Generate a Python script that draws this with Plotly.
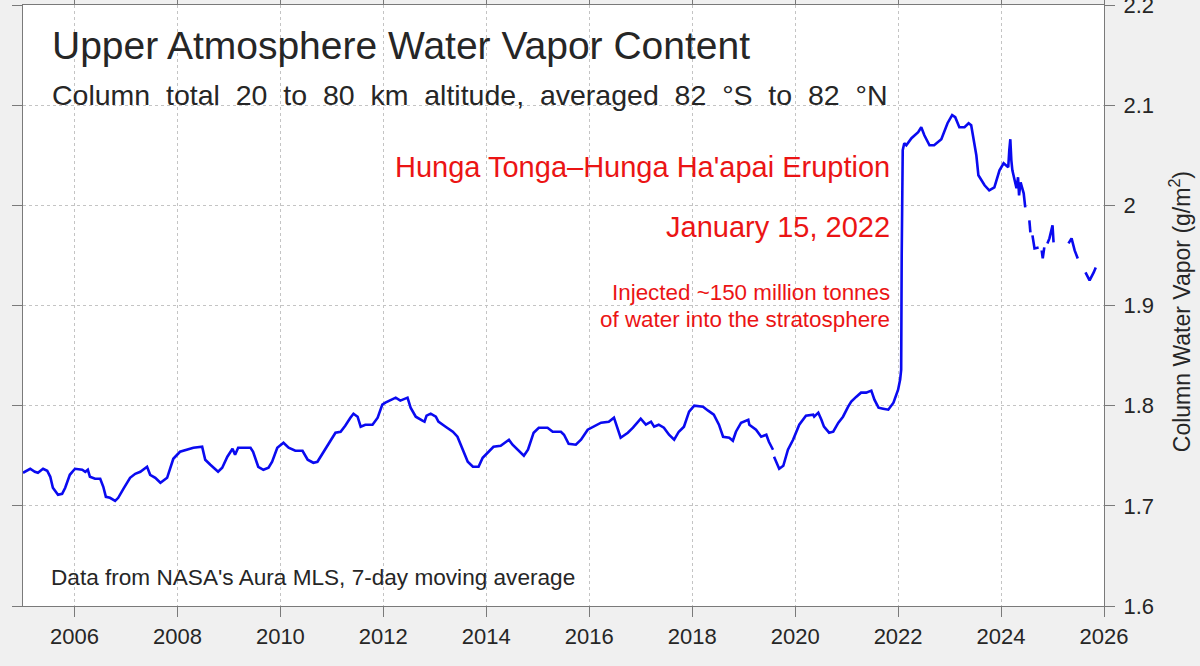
import plotly.graph_objects as go

# ---- data (decimal year, column water vapor g/m^2); None = gap in record ----
years = [
    2005.00, 2005.14, 2005.23, 2005.29, 2005.39, 2005.47, 2005.53, 2005.58, 2005.68, 2005.76, 2005.82, 2005.91,
    2006.01, 2006.15, 2006.21, 2006.26, 2006.30, 2006.40, 2006.50, 2006.56, 2006.61, 2006.69, 2006.79, 2006.85, 2006.95,
    2007.08, 2007.18, 2007.28, 2007.41, 2007.47, 2007.57, 2007.67, 2007.80, 2007.92,
    2008.05, 2008.19, 2008.31, 2008.48, 2008.54, 2008.64, 2008.79, 2008.87, 2008.97,
    2009.07, 2009.12, 2009.18, 2009.42, 2009.47, 2009.57, 2009.67, 2009.77, 2009.84, 2009.94,
    2010.06, 2010.16, 2010.29, 2010.43, 2010.53, 2010.64, 2010.72, 2010.84, 2010.97,
    2011.07, 2011.17, 2011.26, 2011.36, 2011.42, 2011.50, 2011.56, 2011.65, 2011.79, 2011.89, 2011.98,
    2012.04, 2012.18, 2012.24, 2012.33, 2012.47, 2012.53, 2012.63, 2012.76, 2012.80, 2012.84, 2012.92,
    2013.02, 2013.07, 2013.21, 2013.35, 2013.44, 2013.54, 2013.64, 2013.74, 2013.85, 2013.93,
    2014.05, 2014.14, 2014.28, 2014.44, 2014.51, 2014.61, 2014.73, 2014.81, 2014.92,
    2015.02, 2015.19, 2015.29, 2015.45, 2015.51, 2015.60, 2015.74, 2015.84, 2015.97,
    2016.07, 2016.23, 2016.38, 2016.48, 2016.61, 2016.75, 2016.85, 2016.95,
    2017.00, 2017.10, 2017.20, 2017.26, 2017.35, 2017.45, 2017.55, 2017.65, 2017.74, 2017.84, 2017.94,
    2018.04, 2018.21, 2018.31, 2018.42, 2018.52, 2018.60, 2018.72, 2018.79, 2018.85, 2018.95,
    2019.09, 2019.11, 2019.24, 2019.34, 2019.44, 2019.49, 2019.57, 2019.58, 2019.59, 2019.69, 2019.77, 2019.86, 2019.96,
    2020.08, 2020.21, 2020.35, 2020.37, 2020.45, 2020.51, 2020.56, 2020.66, 2020.74, 2020.84, 2020.93,
    2021.03, 2021.09, 2021.19, 2021.28, 2021.38, 2021.48, 2021.54, 2021.62, 2021.71, 2021.81, 2021.91,
    2022.00, 2022.04, 2022.06, 2022.07, 2022.09, 2022.12, 2022.16, 2022.26, 2022.39, 2022.45, 2022.51, 2022.61, 2022.70, 2022.84, 2022.96,
    2023.05, 2023.11, 2023.19, 2023.29, 2023.37, 2023.42, 2023.52, 2023.56, 2023.68, 2023.77, 2023.87, 2023.97,
    2024.05, 2024.14, 2024.16, 2024.18, 2024.20, 2024.22, 2024.30, 2024.33, 2024.35, 2024.38, 2024.44, 2024.47,
    2024.51, 2024.55, 2024.57, 2024.59, 2024.61, 2024.63, 2024.65, 2024.73, 2024.77, 2024.79, 2024.81, 2024.84, 2024.88, 2024.90, 2024.94, 2025.00, 2025.02,
    2025.08, 2025.14, 2025.19, 2025.23, 2025.27, 2025.31, 2025.37, 2025.43, 2025.49,
    2025.52, 2025.54, 2025.60, 2025.64, 2025.72, 2025.80, 2025.84,
]
water_vapor = [
    1.733, 1.737, 1.734, 1.733, 1.737, 1.735, 1.729, 1.718, 1.711, 1.712, 1.718, 1.731,
    1.737, 1.736, 1.734, 1.736, 1.729, 1.727, 1.727, 1.719, 1.709, 1.708, 1.705, 1.708, 1.717,
    1.728, 1.732, 1.734, 1.739, 1.731, 1.728, 1.723, 1.728, 1.747,
    1.754, 1.756, 1.758, 1.759, 1.746, 1.741, 1.734, 1.738, 1.749,
    1.757, 1.751, 1.758, 1.758, 1.754, 1.739, 1.736, 1.738, 1.744, 1.758,
    1.763, 1.758, 1.755, 1.755, 1.746, 1.743, 1.744, 1.754, 1.764,
    1.773, 1.774, 1.780, 1.788, 1.792, 1.789, 1.779, 1.781, 1.781, 1.788, 1.801,
    1.803, 1.806, 1.808, 1.805, 1.808, 1.798, 1.789, 1.785, 1.784, 1.790, 1.792,
    1.789, 1.784, 1.779, 1.774, 1.769, 1.756, 1.744, 1.739, 1.739, 1.748,
    1.754, 1.759, 1.760, 1.766, 1.761, 1.756, 1.750, 1.756, 1.773,
    1.778, 1.778, 1.774, 1.774, 1.771, 1.762, 1.761, 1.766, 1.776,
    1.779, 1.783, 1.784, 1.788, 1.768, 1.773, 1.778, 1.784,
    1.787, 1.781, 1.784, 1.779, 1.781, 1.778, 1.771, 1.766, 1.774, 1.779, 1.794,
    1.800, 1.799, 1.795, 1.791, 1.781, 1.769, 1.768, 1.765, 1.774, 1.783,
    1.786, 1.781, 1.776, 1.769, 1.771, 1.764, 1.756, None, 1.749, 1.737, 1.740, 1.756, 1.766,
    1.781, 1.790, 1.791, 1.789, 1.793, 1.786, 1.779, 1.773, 1.774, 1.783, 1.789,
    1.799, 1.804, 1.809, 1.813, 1.813, 1.815, 1.806, 1.798, 1.797, 1.796, 1.803,
    1.816, 1.826, 1.836, 1.950, 2.055, 2.062, 2.060, 2.067, 2.073, 2.078, 2.070, 2.060, 2.060, 2.066, 2.082,
    2.090, 2.088, 2.078, 2.078, 2.082, 2.080, 2.050, 2.030, 2.020, 2.015, 2.018, 2.035,
    2.042, 2.038, 2.055, 2.066, 2.045, 2.035, 2.017, 2.028, 2.010, 2.023, 2.012, 1.998,
    None, 1.985, 1.973, None, 1.970, 1.965, 1.957, 1.958, None, 1.955, 1.947, 1.958, None, 1.962, 1.967, 1.980, 1.963,
    None, 1.968, None, 1.962, None, 1.962, 1.967, 1.955, 1.947,
    None, 1.935, None, 1.933, 1.925, 1.933, 1.938,
]

x_tick_vals = [2006, 2008, 2010, 2012, 2014, 2016, 2018, 2020, 2022, 2024, 2026]
y_tick_vals = [1.6, 1.7, 1.8, 1.9, 2.0, 2.1, 2.2]
y_tick_text = ["1.6", "1.7", "1.8", "1.9", "2", "2.1", "2.2"]

FONT = "Liberation Sans, Arial, Helvetica, sans-serif"
RED = "rgb(235,20,20)"
SP = "\u00a0\u00a0"

fig = go.Figure()
fig.add_trace(go.Scatter(
    x=years, y=water_vapor, mode="lines",
    line=dict(color="rgb(10,10,240)", width=2.6),
    connectgaps=False, hoverinfo="skip", showlegend=False,
))

axis_common = dict(
    showline=True, linecolor="#7a7a7a", linewidth=1.2, mirror="ticks",
    ticks="outside", ticklen=10, tickcolor="#7a7a7a", tickwidth=1.2,
    showgrid=True, gridcolor="#c4c4c4", gridwidth=1, griddash="3px,3px",
    zeroline=False, automargin=False, ticklabeloverflow="allow",
    tickfont=dict(family=FONT, size=22, color="#262626"),
)

fig.update_layout(
    width=1200, height=666,
    margin=dict(l=23, r=96, t=5, b=60),
    paper_bgcolor="#f0f0f0", plot_bgcolor="white",
    font=dict(family=FONT, color="#262626"),
    xaxis=dict(range=[2005, 2026], tickvals=x_tick_vals, **axis_common),
    yaxis=dict(range=[1.6, 2.2], tickvals=y_tick_vals, ticktext=y_tick_text,
               side="right", ticklabelstandoff=4, **axis_common),
)

ann = []
ann.append(dict(text="Upper Atmosphere Water Vapor Content", x=0.025, y=0.933,
                font=dict(size=39, color="#262626"), xanchor="left"))
ann.append(dict(text=SP.join("Column total 20 to 80 km altitude, averaged 82 °S to 82 °N".split(" ")),
                x=0.025, y=0.850, font=dict(size=28.5, color="#262626"), xanchor="left"))
ann.append(dict(text="Hunga Tonga–Hunga Ha'apai Eruption", x=0.804, y=0.731,
                font=dict(size=29, color=RED), xanchor="right"))
ann.append(dict(text="January 15, 2022", x=0.804, y=0.631,
                font=dict(size=29, color=RED), xanchor="right"))
ann.append(dict(text="Injected ~150 million tonnes", x=0.804, y=0.521,
                font=dict(size=22.4, color=RED), xanchor="right"))
ann.append(dict(text="of water into the stratosphere", x=0.804, y=0.476,
                font=dict(size=22.4, color=RED), xanchor="right"))
ann.append(dict(text="Data from NASA's Aura MLS, 7-day moving average", x=0.024, y=0.048,
                font=dict(size=22.6, color="#262626"), xanchor="left"))
ann.append(dict(text="Column Water Vapor (g/m<sup>2</sup>)", x=1.070, y=0.49,
                textangle=-90, font=dict(size=23, color="#262626"), xanchor="center"))
for a in ann:
    a.update(xref="paper", yref="paper", showarrow=False, yanchor="middle")
fig.update_layout(annotations=ann)

fig.write_html("out.html", config={"displayModeBar": False},
               post_script="document.body.style.margin='0';")
